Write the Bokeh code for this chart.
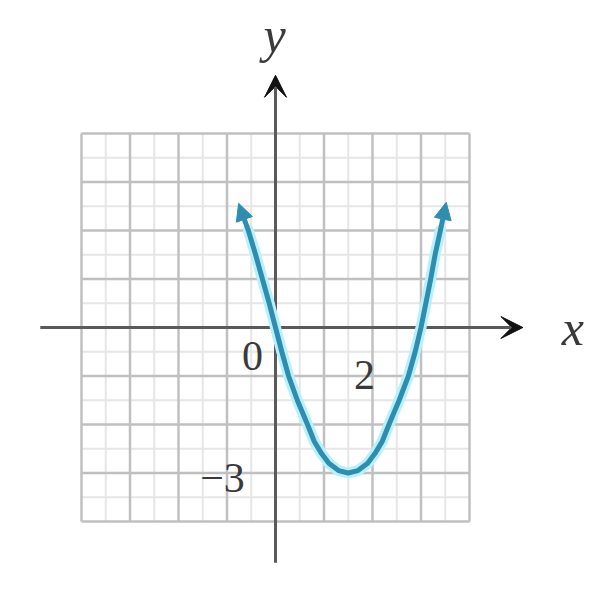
from bokeh.plotting import figure
from bokeh.models import Arrow, NormalHead, VeeHead, Range1d
from bokeh.core.properties import value
from bokeh.embed import file_html
from bokeh.resources import INLINE

# ---- data ----
grid_major = [-4, -3, -2, -1, 0, 1, 2, 3, 4]
grid_minor = [-3.5, -2.5, -1.5, -0.5, 0.5, 1.5, 2.5, 3.5]
grid_lo, grid_hi = -4, 4

curve_x = [-0.56, -0.41, -0.27, -0.13, 0.0, 0.13, 0.27, 0.45, 0.66, 0.8, 0.95, 1.1, 1.3, 1.5,
           1.7, 1.9, 2.05, 2.2, 2.34, 2.55, 2.74, 2.88, 3.0, 3.1, 3.2, 3.29, 3.4]
curve_y = [2.0, 1.5, 1.0, 0.5, 0.0, -0.5, -1.0, -1.5, -2.0, -2.35, -2.6, -2.8, -2.95, -3.0,
           -2.95, -2.8, -2.6, -2.35, -2.0, -1.5, -1.0, -0.5, 0.0, 0.5, 1.0, 1.5, 2.0]
tip_x = [-0.76, 3.52]
tip_y = [2.56, 2.58]

x_axis_extent = (-4.85, 5.1)
y_axis_extent = (-4.85, 5.2)
tick_labels = ["0", "2", "\u22123"]
tick_pos = [(0, 0), (2, 0), (0, -3)]

# ---- layout ----
W, H = 584, 575
UNIT = 48.5
OX, OY = 275.0, 327.0   # origin in figure pixels

p = figure(width=W, height=H,
           x_range=Range1d(-OX / UNIT, (W - OX) / UNIT),
           y_range=Range1d(-(H - OY) / UNIT, OY / UNIT),
           output_backend="svg", toolbar_location=None,
           x_axis_location=None, y_axis_location=None, min_border=0)
p.grid.visible = False
p.outline_line_color = None
p.background_fill_color = "white"

# grid
p.segment(x0=grid_minor, y0=[grid_lo] * len(grid_minor), x1=grid_minor, y1=[grid_hi] * len(grid_minor),
          line_color="#e6e6e6", line_width=2)
p.segment(x0=[grid_lo] * len(grid_minor), y0=grid_minor, x1=[grid_hi] * len(grid_minor), y1=grid_minor,
          line_color="#e6e6e6", line_width=2)
p.segment(x0=grid_major, y0=[grid_lo] * len(grid_major), x1=grid_major, y1=[grid_hi] * len(grid_major),
          line_color="#c0c0c0", line_width=2.5)
p.segment(x0=[grid_lo] * len(grid_major), y0=grid_major, x1=[grid_hi] * len(grid_major), y1=grid_major,
          line_color="#c0c0c0", line_width=2.5)

# axes
p.segment(x0=[x_axis_extent[0]], y0=[0], x1=[x_axis_extent[1] - 0.3], y1=[0], line_color="#5a5a5a", line_width=3)
p.segment(x0=[0], y0=[y_axis_extent[0]], x1=[0], y1=[y_axis_extent[1] - 0.3], line_color="#5a5a5a", line_width=3)
p.add_layout(Arrow(end=VeeHead(size=22, fill_color="#111111", line_color="#111111"),
                   x_start=x_axis_extent[1] - 0.5, y_start=0, x_end=x_axis_extent[1], y_end=0,
                   line_color="#5a5a5a", line_width=3))
p.add_layout(Arrow(end=VeeHead(size=22, fill_color="#111111", line_color="#111111"),
                   x_start=0, y_start=y_axis_extent[1] - 0.5, x_end=0, y_end=y_axis_extent[1],
                   line_color="#5a5a5a", line_width=3))

# curve
TEAL = "#2f8db0"
HALO = "#b8f1fb"
p.line(curve_x, curve_y, line_color=HALO, line_width=11, line_join="round", line_cap="round")
p.line(curve_x, curve_y, line_color=TEAL, line_width=5, line_join="round", line_cap="round")
for i, j in ((0, 0), (-1, 1)):
    p.add_layout(Arrow(end=NormalHead(size=17, fill_color=TEAL, line_color=TEAL),
                       x_start=curve_x[i], y_start=curve_y[i], x_end=tip_x[j], y_end=tip_y[j],
                       line_color=TEAL, line_width=5))

# tick labels
FONT = value("Liberation Serif")
offsets = [(-23, 28), (-8, 47), (-53, 5)]
for lab, (tx, ty), (dx, dy) in zip(tick_labels, tick_pos, offsets):
    p.text(x=[tx], y=[ty], text=[lab], x_offset=dx, y_offset=dy,
           text_font=FONT, text_font_size="42px", text_color="#3a3a3a",
           text_align="center", text_baseline="middle")

# axis names
p.text(x=[x_axis_extent[1]], y=[0], text=["x"], x_offset=50, y_offset=0,
       text_font=FONT, text_font_style="italic", text_font_size="50px", text_color="#3a3a3a",
       text_align="center", text_baseline="middle")
p.text(x=[0], y=[y_axis_extent[1]], text=["y"], x_offset=-1, y_offset=-40,
       text_font=FONT, text_font_style="italic", text_font_size="50px", text_color="#3a3a3a",
       text_align="center", text_baseline="middle")

open("out.html", "w").write(file_html(p, INLINE))
